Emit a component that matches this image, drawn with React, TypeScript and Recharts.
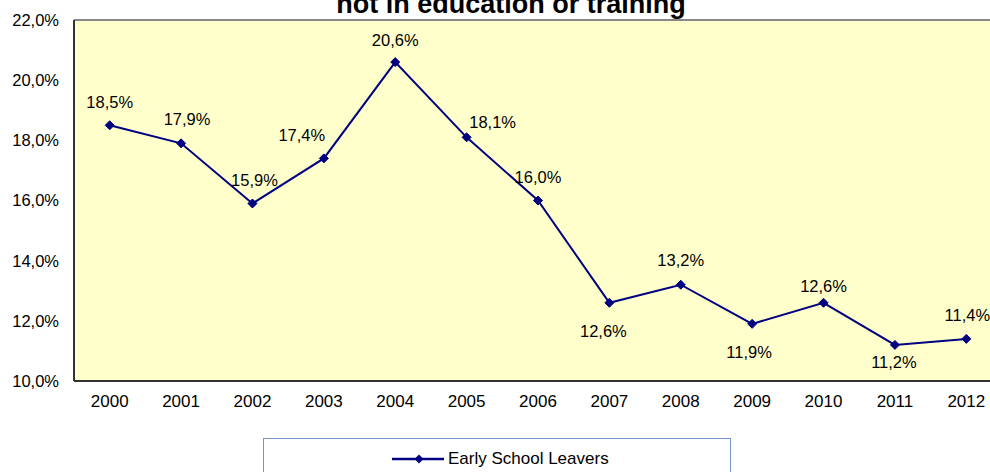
import { LineChart, Line, XAxis, YAxis, CartesianGrid, ReferenceLine } from 'recharts';

const years = ['2000', '2001', '2002', '2003', '2004', '2005', '2006', '2007', '2008', '2009', '2010', '2011', '2012'];
const earlySchoolLeavers = [18.5, 17.9, 15.9, 17.4, 20.6, 18.1, 16.0, 12.6, 13.2, 11.9, 12.6, 11.2, 11.4];
const yTicks = [10, 12, 14, 16, 18, 20, 22];

const titleLine = 'not in education or training';
const seriesName = 'Early School Leavers';

const NAVY = '#000080';
const FONT = '"Liberation Sans", Arial, sans-serif';

// label placement per point (dx, dy from the marker), as in the original
const labelOffsets: [number, number][] = [
  [0, -23], [6, -24], [2, -24], [-22, -23], [0, -22], [26, -15], [0, -24],
  [-6, 28], [0, -25], [-3, 28], [0, -17], [-1, 17], [1, -24],
];

const fmt = (v: number) => `${v.toFixed(1).replace('.', ',')}%`;

const data = years.map((y, i) => ({ year: y, value: earlySchoolLeavers[i] }));

function Diamond(props: any) {
  const { cx, cy, index } = props;
  if (cx == null || cy == null) return null;
  const r = 4.5;
  return (
    <path
      key={`d-${index}`}
      d={`M${cx},${cy - r}L${cx + r},${cy}L${cx},${cy + r}L${cx - r},${cy}Z`}
      fill={NAVY}
      stroke={NAVY}
    />
  );
}

function ValueLabel(props: any) {
  const { x, y, value, index } = props;
  const [dx, dy] = labelOffsets[index] || [0, -24];
  return (
    <text
      x={x + dx}
      y={y + dy}
      textAnchor="middle"
      dominantBaseline="central"
      fontSize={16.5}
      fontFamily={FONT}
      fill="#000"
    >
      {fmt(value)}
    </text>
  );
}

export default function App() {
  return (
    <div
      style={{
        position: 'absolute',
        left: 0,
        top: 0,
        width: 990,
        height: 472,
        overflow: 'hidden',
        background: '#fff',
        fontFamily: FONT,
      }}
    >
      <div
        style={{
          position: 'absolute',
          left: 16,
          top: -9,
          width: 990,
          textAlign: 'center',
          fontSize: 27,
          lineHeight: '27px',
          fontWeight: 'bold',
          color: '#000',
          whiteSpace: 'nowrap',
        }}
      >
        {titleLine}
      </div>

      <LineChart
        width={1010}
        height={472}
        data={data}
        margin={{ top: 20, right: 8, bottom: 0, left: 0 }}
      >
        <CartesianGrid fill="#FFFFCC" horizontal={false} vertical={false} />
        <XAxis
          dataKey="year"
          padding={{ left: 35.7, right: 35.7 }}
          height={91}
          axisLine={{ stroke: '#333', strokeWidth: 2 }}
          tickLine={false}
          tickMargin={8}
          tick={{ fontSize: 17, fill: '#000', fontFamily: FONT }}
          interval={0}
        />
        <YAxis
          width={74}
          domain={[10, 22]}
          ticks={yTicks}
          tickFormatter={fmt}
          axisLine={{ stroke: '#333', strokeWidth: 2 }}
          tickLine={false}
          tickMargin={9}
          tick={{ fontSize: 16.5, fill: '#000', fontFamily: FONT }}
        />
        <ReferenceLine y={22} stroke="#888" strokeWidth={2} />
        <Line
          dataKey="value"
          name={seriesName}
          stroke={NAVY}
          strokeWidth={2}
          dot={<Diamond />}
          activeDot={false}
          label={<ValueLabel />}
          isAnimationActive={false}
        />
      </LineChart>

      <div
        style={{
          position: 'absolute',
          left: 263,
          top: 438,
          width: 468,
          height: 60,
          border: '1px solid #7497cf',
          boxSizing: 'border-box',
        }}
      >
        <svg width={60} height={20} style={{ position: 'absolute', left: 126, top: 10 }}>
          <line x1={2} y1={10} x2={54} y2={10} stroke={NAVY} strokeWidth={2.5} />
          <path d="M29,5.5L33.5,10L29,14.5L24.5,10Z" fill={NAVY} />
        </svg>
        <div
          style={{
            position: 'absolute',
            left: 184,
            top: 10,
            fontSize: 17,
            lineHeight: '20px',
            color: '#000',
            whiteSpace: 'nowrap',
          }}
        >
          {seriesName}
        </div>
      </div>
    </div>
  );
}
